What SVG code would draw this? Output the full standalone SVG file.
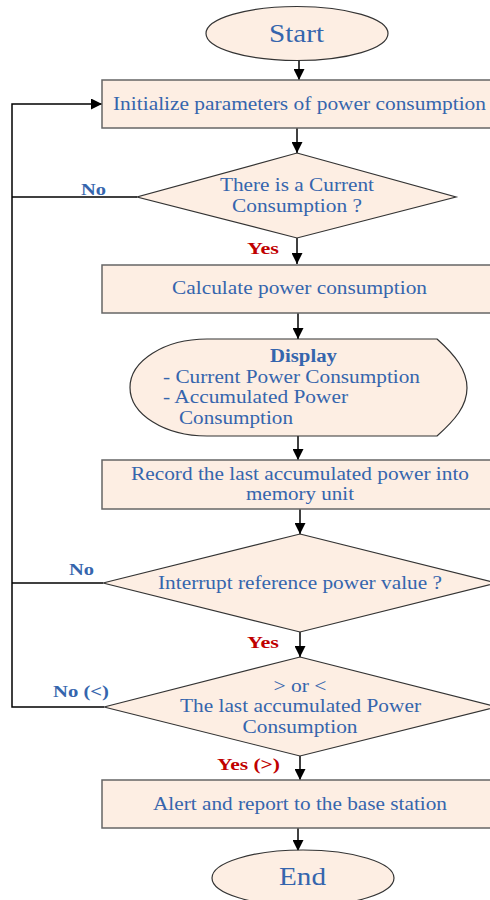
<svg xmlns="http://www.w3.org/2000/svg" width="490" height="900" viewBox="0 0 490 900">
<style>
.shape{fill:#fdeee3;stroke:#333;stroke-width:1.2}
.box{fill:#fdeee3;stroke:#666;stroke-width:1.5}
.t{font-family:"Liberation Serif","Times New Roman",serif;fill:#3565ad;font-size:18.5px;text-anchor:middle}
.s{text-anchor:start}
.big{font-size:25px}
.lbl{font-family:"Liberation Serif","Times New Roman",serif;font-weight:bold;font-size:17px;text-anchor:middle}
.no{fill:#3565ad}
.yes{fill:#c00000}
.c{fill:none;stroke:#000;stroke-width:1.5}
</style>
<defs>
<marker id="ah" viewBox="0 0 10 10" refX="10" refY="5" markerWidth="11" markerHeight="11" markerUnits="userSpaceOnUse" orient="auto">
<path d="M0,0 L10,5 L0,10 Z" fill="#000"/>
</marker>
</defs>
<rect width="490" height="900" fill="#fff"/>
<g id="connectors">
<path class="c" d="M299,60 V80" marker-end="url(#ah)"/>
<path class="c" d="M297,128 V153" marker-end="url(#ah)"/>
<path class="c" d="M297,238 V264" marker-end="url(#ah)"/>
<path class="c" d="M298,313 V339" marker-end="url(#ah)"/>
<path class="c" d="M298,436 V460" marker-end="url(#ah)"/>
<path class="c" d="M300,509 V534" marker-end="url(#ah)"/>
<path class="c" d="M300,632 V657" marker-end="url(#ah)"/>
<path class="c" d="M300,756 V780" marker-end="url(#ah)"/>
<path class="c" d="M298,828 V851" marker-end="url(#ah)"/>
<path class="c" d="M137,197 H12"/>
<path class="c" d="M103,583 H12"/>
<path class="c" d="M104,707 H12 V104 H102" marker-end="url(#ah)"/>
<text class="lbl no" x="93.5" y="195" textLength="25" lengthAdjust="spacingAndGlyphs">No</text>
<text class="lbl yes" x="263" y="254" textLength="32" lengthAdjust="spacingAndGlyphs">Yes</text>
<text class="lbl no" x="81.5" y="575" textLength="25" lengthAdjust="spacingAndGlyphs">No</text>
<text class="lbl yes" x="263" y="648" textLength="32" lengthAdjust="spacingAndGlyphs">Yes</text>
<text class="lbl no" x="81" y="697" textLength="56" lengthAdjust="spacingAndGlyphs">No (&lt;)</text>
<text class="lbl yes" x="248.5" y="770" textLength="63" lengthAdjust="spacingAndGlyphs">Yes (&gt;)</text>
</g>
<g id="start">
<ellipse class="shape" cx="297" cy="33.5" rx="91" ry="27"/>
<text class="t big" x="296.5" y="42" textLength="55" lengthAdjust="spacingAndGlyphs">Start</text>
</g>
<g id="init">
<rect class="box" x="102" y="80" width="400" height="48"/>
<text class="t" x="299.5" y="110" textLength="373" lengthAdjust="spacingAndGlyphs">Initialize parameters of power consumption</text>
</g>
<g id="current">
<path class="shape" d="M297,153 L456,197 L297,238 L137,197 Z"/>
<text class="t" x="297" y="191" textLength="154" lengthAdjust="spacingAndGlyphs">There is a Current</text>
<text class="t" x="297" y="212" textLength="130" lengthAdjust="spacingAndGlyphs">Consumption ?</text>
</g>
<g id="calculate">
<rect class="box" x="102" y="265" width="400" height="48"/>
<text class="t" x="299.5" y="294" textLength="255" lengthAdjust="spacingAndGlyphs">Calculate power consumption</text>
</g>
<g id="display">
<path class="shape" d="M207,339 H437 C455,355 467,370 467,388 C467,406 455,420 437,436 H207 A77,48.5 0 0 1 207,339 Z"/>
<text class="t" x="303.5" y="362" font-weight="bold" textLength="67" lengthAdjust="spacingAndGlyphs">Display</text>
<text class="t s" x="163" y="383" textLength="257" lengthAdjust="spacingAndGlyphs">- Current Power Consumption</text>
<text class="t s" x="163" y="403" textLength="185" lengthAdjust="spacingAndGlyphs">- Accumulated Power</text>
<text class="t s" x="179" y="424" textLength="114" lengthAdjust="spacingAndGlyphs">Consumption</text>
</g>
<g id="record">
<rect class="box" x="102" y="460" width="400" height="49"/>
<text class="t" x="300" y="480" textLength="338" lengthAdjust="spacingAndGlyphs">Record the last accumulated power into</text>
<text class="t" x="300" y="500" textLength="108" lengthAdjust="spacingAndGlyphs">memory unit</text>
</g>
<g id="interrupt">
<path class="shape" d="M300,534 L497,583 L300,632 L103,583 Z"/>
<text class="t" x="300" y="589" textLength="284" lengthAdjust="spacingAndGlyphs">Interrupt reference power value ?</text>
</g>
<g id="compare">
<path class="shape" d="M300,657 L497,707 L300,756 L104,707 Z"/>
<text class="t" x="300" y="692" textLength="53" lengthAdjust="spacingAndGlyphs">&gt; or &lt;</text>
<text class="t" x="300.5" y="712" textLength="241" lengthAdjust="spacingAndGlyphs">The last accumulated Power</text>
<text class="t" x="300" y="733" textLength="115" lengthAdjust="spacingAndGlyphs">Consumption</text>
</g>
<g id="alert">
<rect class="box" x="102" y="780" width="400" height="48"/>
<text class="t" x="300" y="810" textLength="294" lengthAdjust="spacingAndGlyphs">Alert and report to the base station</text>
</g>
<g id="end">
<ellipse class="shape" cx="303" cy="878" rx="91" ry="28"/>
<text class="t big" x="302.5" y="885" textLength="47" lengthAdjust="spacingAndGlyphs">End</text>
</g>
</svg>
